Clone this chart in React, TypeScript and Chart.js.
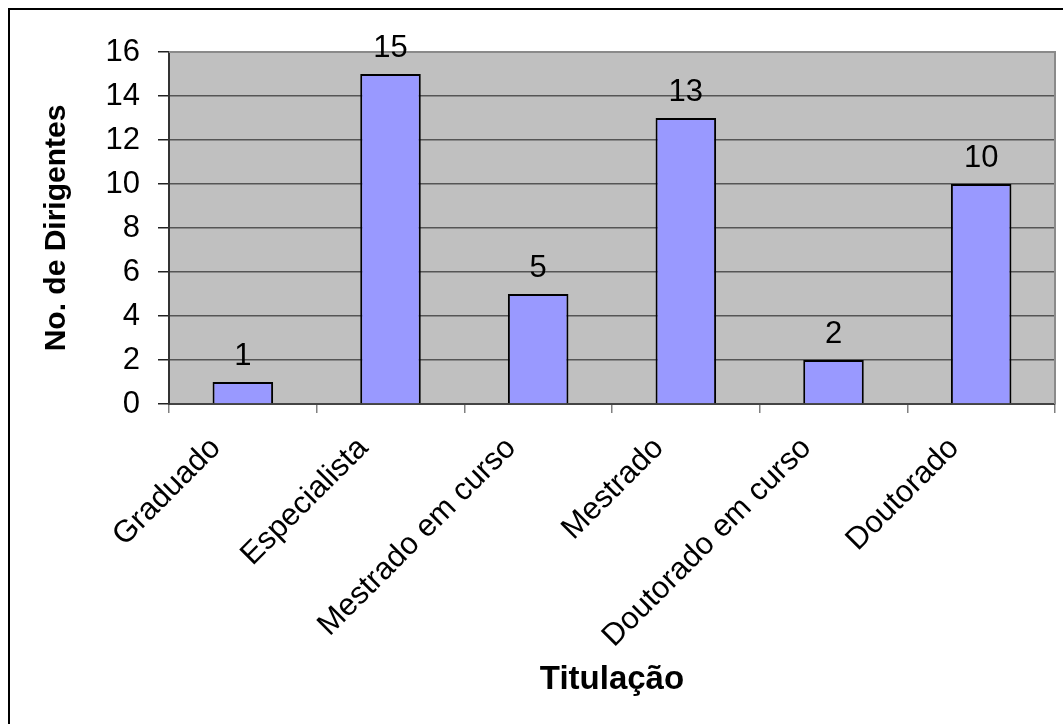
import React, { useEffect, useRef } from "react";
import { Chart, registerables } from "chart.js";

Chart.register(...registerables);

const categories: string[] = [
  "Graduado",
  "Especialista",
  "Mestrado em curso",
  "Mestrado",
  "Doutorado em curso",
  "Doutorado",
];
const values: number[] = [1, 15, 5, 13, 2, 10];
const yMin = 0;
const yMax = 16;
const yStep = 2;
const yAxisTitle = "No. de Dirigentes";
const xAxisTitle = "Titulação";

const FONT = "'Liberation Sans', Arial, Helvetica, sans-serif";

const framePlugin = {
  id: "frame",
  beforeDraw(chart: any) {
    const { ctx, chartArea } = chart;
    const { left, top, right, bottom } = chartArea;
    ctx.save();
    ctx.fillStyle = "#ffffff";
    ctx.fillRect(0, 0, chart.width, chart.height);
    ctx.fillStyle = "#C0C0C0";
    ctx.fillRect(left, top, right - left, bottom - top);
    ctx.fillStyle = "#000000";
    ctx.fillRect(0, 0, 2, chart.height);
    ctx.fillRect(0, 0, chart.width, 2);
    ctx.restore();
  },
  beforeDatasetsDraw(chart: any) {
    const { ctx, chartArea } = chart;
    const { left, top, right, bottom } = chartArea;
    ctx.save();
    ctx.strokeStyle = "#8a8a8a";
    ctx.lineWidth = 2;
    ctx.beginPath();
    ctx.moveTo(left, top);
    ctx.lineTo(right, top);
    ctx.lineTo(right, bottom);
    ctx.stroke();
    ctx.restore();
  },
  afterDatasetsDraw(chart: any) {
    const { ctx } = chart;
    const meta = chart.getDatasetMeta(0);
    const data = chart.data.datasets[0].data;
    ctx.save();
    ctx.fillStyle = "#000";
    ctx.font = `31px ${FONT}`;
    ctx.textAlign = "center";
    ctx.textBaseline = "alphabetic";
    meta.data.forEach((bar: any, i: number) => {
      ctx.fillText(String(data[i]), bar.x, bar.y - 17.5);
    });
    ctx.restore();
  },
};

export default function App() {
  const ref = useRef<HTMLCanvasElement | null>(null);

  useEffect(() => {
    if (!ref.current) return;
    const chart = new Chart(ref.current, {
      type: "bar",
      data: {
        labels: categories,
        datasets: [
          {
            data: values,
            backgroundColor: "#9999FF",
            borderColor: "#000000",
            borderWidth: 2,
            barPercentage: 0.41,
            categoryPercentage: 1,
          },
        ],
      },
      options: {
        responsive: false,
        animation: false,
        devicePixelRatio: 1,
        layout: { padding: { left: 31, top: 44, right: 8, bottom: 24 } },
        plugins: {
          legend: { display: false },
          tooltip: { enabled: false },
          title: { display: false },
        },
        scales: {
          x: {
            afterFit: (scale: any) => {
              scale.height = 296;
            },
            grid: {
              offset: true,
              drawOnChartArea: false,
              drawTicks: true,
              tickLength: 9,
              color: "#808080",
              lineWidth: 1.5,
            },
            border: { display: true, color: "#444444", width: 2 },
            ticks: {
              color: "#000",
              font: { family: FONT, size: 31 },
              minRotation: 45,
              maxRotation: 45,
              padding: 17,
              labelOffset: -27,
              autoSkip: false,
            },
            title: {
              display: true,
              text: xAxisTitle,
              color: "#000",
              font: { family: FONT, size: 33, weight: "bold" },
              padding: { top: 0, bottom: 0 },
            },
          },
          y: {
            min: yMin,
            max: yMax,
            afterFit: (scale: any) => {
              scale.width = 130;
            },
            grid: {
              color: "#555555",
              lineWidth: 1.5,
              tickColor: "#222222",
              tickLength: 11,
            },
            border: { display: true, color: "#333333", width: 2 },
            ticks: {
              stepSize: yStep,
              color: "#000",
              font: { family: FONT, size: 31 },
              padding: 18,
            },
            title: {
              display: true,
              text: yAxisTitle,
              color: "#000",
              font: { family: FONT, size: 30, weight: "bold" },
              padding: { top: 0, bottom: 0 },
            },
          },
        },
      },
      plugins: [framePlugin],
    });
    return () => chart.destroy();
  }, []);

  return (
    <div
      style={{
        position: "fixed",
        left: 0,
        top: 0,
        width: 1063,
        height: 724,
        overflow: "hidden",
        background: "#fff",
      }}
    >
      <canvas
        ref={ref}
        width={1055}
        height={716}
        style={{ position: "absolute", left: 8, top: 8, width: 1055, height: 716 }}
      />
    </div>
  );
}
